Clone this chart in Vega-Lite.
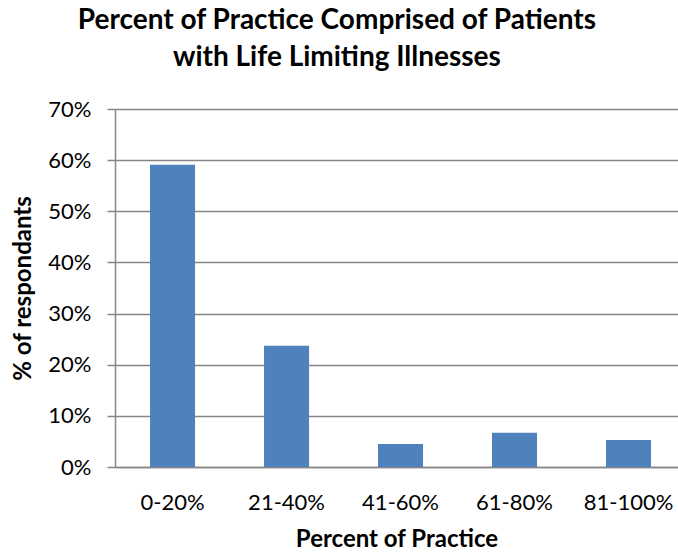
{
  "$schema": "https://vega.github.io/schema/vega-lite/v6.json",
  "autosize": {"type": "none"},
  "padding": {"left": 115, "top": 109, "right": 0, "bottom": 87},
  "width": 563,
  "height": 358,
  "background": "white",
  "title": {
    "text": ["Percent of Practice Comprised of Patients", "with Life Limiting Illnesses"],
    "font": "Lato",
    "fontSize": 28,
    "fontWeight": "bold",
    "color": "#000000",
    "anchor": "middle",
    "frame": "bounds",
    "lineHeight": 37,
    "offset": 26,
    "dx": -8
  },
  "data": {
    "values": [
      {"range": "0-20%", "pct": 0.591},
      {"range": "21-40%", "pct": 0.237},
      {"range": "41-60%", "pct": 0.045},
      {"range": "61-80%", "pct": 0.067},
      {"range": "81-100%", "pct": 0.053}
    ]
  },
  "mark": {"type": "bar", "color": "#4F81BD"},
  "encoding": {
    "x": {
      "field": "range",
      "type": "nominal",
      "sort": null,
      "scale": {"paddingInner": 0.605, "paddingOuter": 0.272, "align": 0.565},
      "axis": {
        "title": "Percent of Practice",
        "labelAngle": 0,
        "ticks": false,
        "labelFont": "Lato",
        "labelFontSize": 22,
        "labelColor": "#000000",
        "labelPadding": 25,
        "titleFont": "Lato",
        "titleFontSize": 24,
        "titleFontWeight": "bold",
        "titleColor": "#000000",
        "titlePadding": 14,
        "domainColor": "#868686",
        "domainWidth": 1.5
      }
    },
    "y": {
      "field": "pct",
      "type": "quantitative",
      "scale": {"domain": [0, 0.7]},
      "axis": {
        "title": "% of respondants",
        "format": ".0%",
        "values": [0, 0.1, 0.2, 0.3, 0.4, 0.5, 0.6, 0.7],
        "grid": true,
        "gridColor": "#868686",
        "gridWidth": 1.5,
        "tickColor": "#868686",
        "tickSize": 8,
        "tickWidth": 1.5,
        "domainColor": "#868686",
        "domainWidth": 1.5,
        "labelFont": "Lato",
        "labelFontSize": 22,
        "labelColor": "#000000",
        "labelPadding": 16,
        "titleFont": "Lato",
        "titleFontSize": 24,
        "titleFontWeight": "bold",
        "titleColor": "#000000",
        "titlePadding": 12
      }
    }
  },
  "config": {"view": {"stroke": null}}
}
